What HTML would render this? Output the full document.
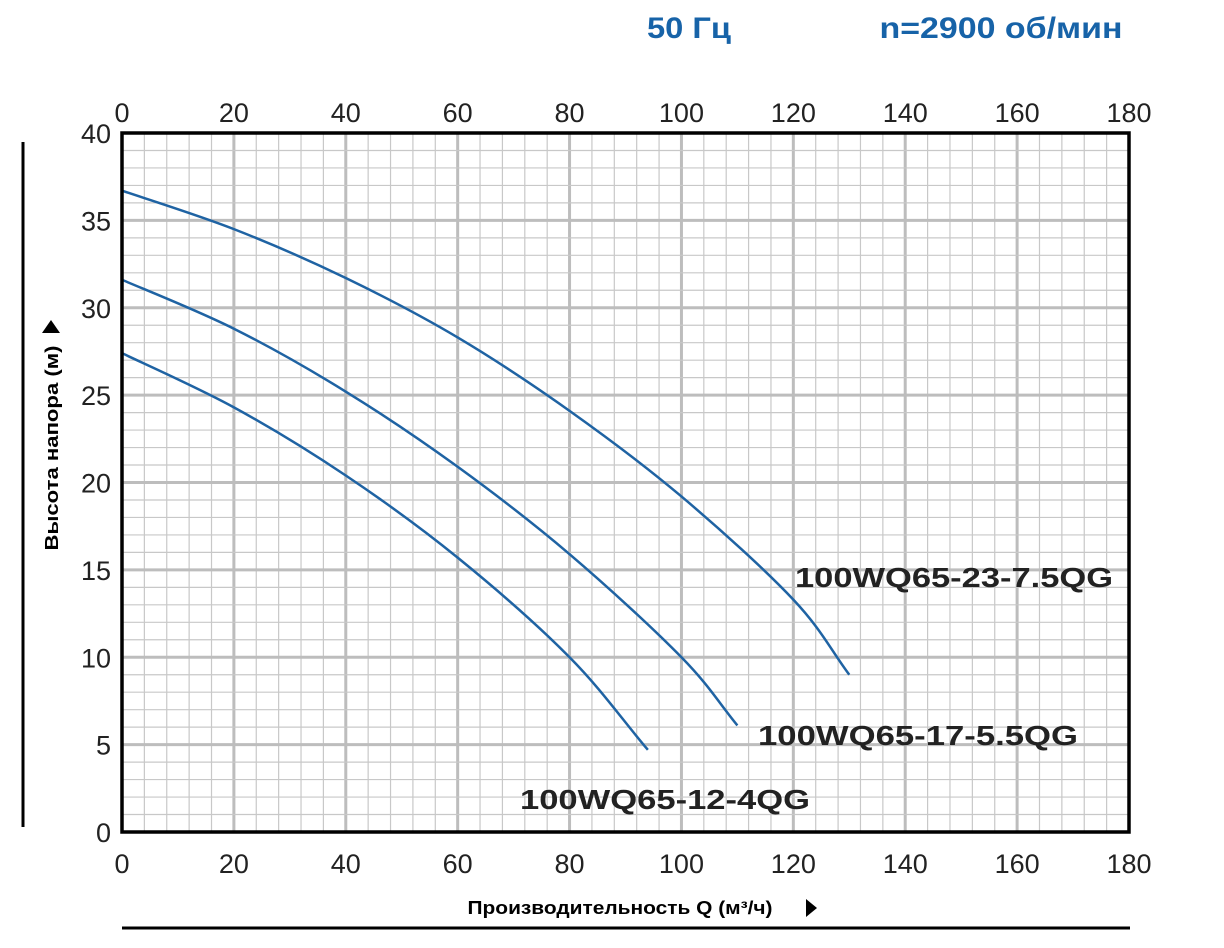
<!DOCTYPE html>
<html><head><meta charset="utf-8"><style>
body{margin:0;background:#fff;}
svg{display:block;font-family:"Liberation Sans",sans-serif;}
</style></head><body>
<svg id="chart" width="1224" height="948">
<text x="689" y="38" font-size="30" font-weight="bold" fill="#1763a8" text-anchor="middle" textLength="84" lengthAdjust="spacingAndGlyphs">50 Гц</text>
<text x="1001" y="38" font-size="30" font-weight="bold" fill="#1763a8" text-anchor="middle" textLength="243" lengthAdjust="spacingAndGlyphs">n=2900 об/мин</text>
<g id="grid"></g>
<g id="ticks"></g>
<g id="curves"></g>
<rect x="122" y="133" width="1007" height="699" fill="none" stroke="#000" stroke-width="3.5"/>
<line x1="23" y1="142" x2="23" y2="827" stroke="#000" stroke-width="3"/>
<line x1="122" y1="928" x2="1130" y2="928" stroke="#000" stroke-width="3"/>
<text transform="translate(58,448) rotate(-90)" font-size="18" font-weight="bold" text-anchor="middle" textLength="205" lengthAdjust="spacingAndGlyphs">Высота напора (м)</text>
<polygon points="42,333 60,333 51,320" fill="#000"/>
<text x="620" y="914" font-size="18" font-weight="bold" text-anchor="middle" textLength="305" lengthAdjust="spacingAndGlyphs">Производительность Q (м³/ч)</text>
<polygon points="806,899 806,917 817,908" fill="#000"/>
<text x="954" y="587" font-size="28" font-weight="bold" fill="#222" text-anchor="middle" textLength="318" lengthAdjust="spacingAndGlyphs">100WQ65-23-7.5QG</text>
<text x="918" y="745" font-size="28" font-weight="bold" fill="#222" text-anchor="middle" textLength="320" lengthAdjust="spacingAndGlyphs">100WQ65-17-5.5QG</text>
<text x="665" y="809" font-size="28" font-weight="bold" fill="#222" text-anchor="middle" textLength="290" lengthAdjust="spacingAndGlyphs">100WQ65-12-4QG</text>
</svg>
<script>
const xTicks=[0,20,40,60,80,100,120,140,160,180];
const yTicks=[0,5,10,15,20,25,30,35,40];
const q1=[0,20,40,60,80,100,120,130];
const h1=[36.7,34.5,31.7,28.3,24.1,19.2,13.3,9.0];
const q2=[0,20,40,60,80,100,110];
const h2=[31.6,28.8,25.2,20.9,15.9,10.0,6.1];
const q3=[0,20,40,60,80,94];
const h3=[27.4,24.3,20.4,15.7,10.0,4.7];
const NS='http://www.w3.org/2000/svg';
const X=v=>122+v*(1007/180);
const Y=v=>832-v*(699/40);
function mk(t,a,p){const e=document.createElementNS(NS,t);for(const k in a)e.setAttribute(k,a[k]);p.appendChild(e);return e;}
const grid=document.getElementById('grid');
for(let v=0;v<=180;v+=4){const l=mk('line',{x1:X(v),x2:X(v),y1:133,y2:832,stroke:v%20===0?'#bdbdbd':'#c8c8c8','stroke-width':v%20===0?3:1.2},grid);

}
for(let v=0;v<=40;v+=1){const l=mk('line',{x1:122,x2:1129,y1:Y(v),y2:Y(v),stroke:v%5===0?'#bdbdbd':'#c8c8c8','stroke-width':v%5===0?3:1.2},grid);

}
const tk=document.getElementById('ticks');
xTicks.forEach(v=>{
const a=mk('text',{x:X(v),y:122,'font-size':27,'text-anchor':'middle',fill:'#222'},tk);a.textContent=v;


const b=mk('text',{x:X(v),y:873,'font-size':27,'text-anchor':'middle',fill:'#222'},tk);b.textContent=v;

});
yTicks.forEach(v=>{const a=mk('text',{x:111,y:Y(v)+10,'font-size':27,'text-anchor':'end',fill:'#222'},tk);a.textContent=v;

});
function path(q,h){const p=q.map((v,i)=>[X(v),Y(h[i])]);let d='M'+p[0];
for(let i=0;i<p.length-1;i++){const p0=p[i-1]||p[i],p1=p[i],p2=p[i+1],p3=p[i+2]||[2*p2[0]-p1[0],2*p2[1]-p1[1]];
const c1=[p1[0]+(p2[0]-p0[0])/6,p1[1]+(p2[1]-p0[1])/6],c2=[p2[0]-(p3[0]-p1[0])/6,p2[1]-(p3[1]-p1[1])/6];
d+=' C'+c1+' '+c2+' '+p2;}return d;}
const cg=document.getElementById('curves');
[[q1,h1,'curve-100wq65-23-7-5qg'],[q2,h2,'curve-100wq65-17-5-5qg'],[q3,h3,'curve-100wq65-12-4qg']].forEach(s=>{
const e=mk('path',{d:path(s[0],s[1]),fill:'none',stroke:'#1f63a3','stroke-width':2.5},cg);

});
</script>
</body></html>
